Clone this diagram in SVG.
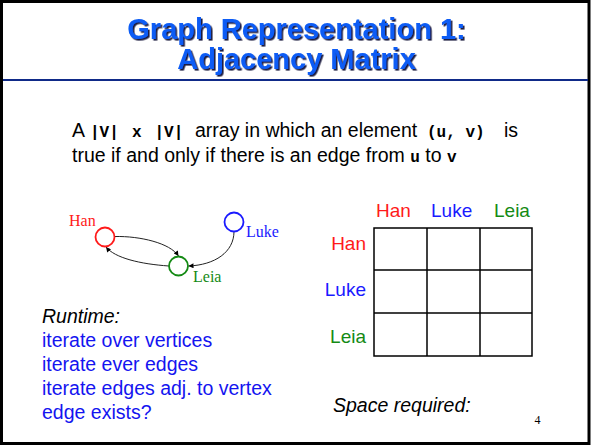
<svg xmlns="http://www.w3.org/2000/svg" width="592" height="445" viewBox="0 0 592 445">
<defs>
<style>
.title{font-family:"Liberation Sans",Arial,sans-serif;font-weight:bold;font-size:29px;text-anchor:middle;fill:#0a5cf5}
.body{font-family:"Liberation Sans",Arial,sans-serif;font-size:19.5px;fill:#000}
.mono{font-family:"Liberation Mono","Courier New",monospace;font-weight:bold;font-size:16px;fill:#000}
.lbl{font-family:"Liberation Serif","Times New Roman",serif;font-size:16px}
.hdr{font-family:"Liberation Sans",Arial,sans-serif;font-size:19px}
.blue{font-family:"Liberation Sans",Arial,sans-serif;font-size:19.5px;fill:#1414f0}
.edge{fill:none;stroke:#222;stroke-width:1}
.node{fill:#fff;stroke-width:1.8}
.grid{stroke:#000;stroke-width:1.5;fill:none}
</style>
<filter id="sh" x="-5%" y="-20%" width="110%" height="140%">
<feDropShadow dx="1.6" dy="1.6" stdDeviation="0.4" flood-color="#1a1a40" flood-opacity="1"/>
</filter>
<marker id="arr" viewBox="0 0 10 10" refX="10" refY="5" markerWidth="6" markerHeight="5" markerUnits="userSpaceOnUse" orient="auto">
<path d="M0,0 L10,5 L0,10 z" fill="#000"/>
</marker>
</defs>
<rect x="0" y="0" width="592" height="445" fill="#fff"/>
<rect x="1.5" y="1.5" width="587.5" height="442" fill="none" stroke="#000" stroke-width="3"/>
<line x1="3" y1="80" x2="588" y2="80" stroke="#0f2a88" stroke-width="2"/>
<g id="title" filter="url(#sh)">
<text class="title" x="296.5" y="39">Graph Representation 1:</text>
<text class="title" x="296.5" y="69">Adjacency Matrix</text>
</g>
<g id="description">
<text class="body" x="72" y="137">A</text>
<text class="mono" x="90" y="137">|V|</text>
<text class="mono" x="132" y="137">x</text>
<text class="mono" x="154.5" y="137">|V|</text>
<text class="body" x="195" y="137">array in which an element</text>
<text class="mono" x="427" y="137">(u, v)</text>
<text class="body" x="504" y="137">is</text>
<text class="body" x="72" y="162">true if and only if there is an edge from <tspan class="mono">u</tspan> to <tspan class="mono">v</tspan></text>
</g>
<g id="connectors">
<path class="edge" d="M115,236.5 C140,236 170,243 178.5,256" marker-end="url(#arr)"/>
<path class="edge" d="M168.8,266 C140,264 115,258 106,247" marker-end="url(#arr)"/>
<path class="edge" d="M234,231.5 C234,252 215,265 188.5,266" marker-end="url(#arr)"/>
</g>
<g id="node-han">
<circle class="node" cx="105" cy="237" r="9.5" stroke="#ff1a1a"/>
<text class="lbl" x="69" y="226" fill="#ff1a1a">Han</text>
</g>
<g id="node-luke">
<circle class="node" cx="234" cy="222" r="9.5" stroke="#1a1aff"/>
<text class="lbl" x="246" y="237" fill="#1a1aff">Luke</text>
</g>
<g id="node-leia">
<circle class="node" cx="178.5" cy="266" r="9.5" stroke="#148a14"/>
<text class="lbl" x="193" y="282" fill="#148a14">Leia</text>
</g>
<g id="matrix">
<rect class="grid" x="374" y="228" width="158" height="128" stroke-width="2"/>
<line class="grid" x1="427" y1="228" x2="427" y2="356"/>
<line class="grid" x1="480" y1="228" x2="480" y2="356"/>
<line class="grid" x1="374" y1="270" x2="532" y2="270"/>
<line class="grid" x1="374" y1="313" x2="532" y2="313"/>
<text class="hdr" x="376" y="217" fill="#ff1a1a">Han</text>
<text class="hdr" x="431" y="217" fill="#1a1aff">Luke</text>
<text class="hdr" x="494" y="217" fill="#148a14">Leia</text>
<text class="hdr" x="366" y="250" text-anchor="end" fill="#ff1a1a">Han</text>
<text class="hdr" x="366" y="296" text-anchor="end" fill="#1a1aff">Luke</text>
<text class="hdr" x="366" y="343" text-anchor="end" fill="#148a14">Leia</text>
</g>
<g id="runtime">
<text class="body" x="42" y="323" font-style="italic">Runtime:</text>
<text class="blue" x="42" y="347">iterate over vertices</text>
<text class="blue" x="42" y="371">iterate ever edges</text>
<text class="blue" x="42" y="395">iterate edges adj. to vertex</text>
<text class="blue" x="42" y="419">edge exists?</text>
</g>
<g id="space">
<text class="body" x="333" y="412" font-style="italic">Space required:</text>
<text x="534.5" y="424" font-family="Liberation Serif,'Times New Roman',serif" font-size="12" fill="#000">4</text>
</g>
</svg>
